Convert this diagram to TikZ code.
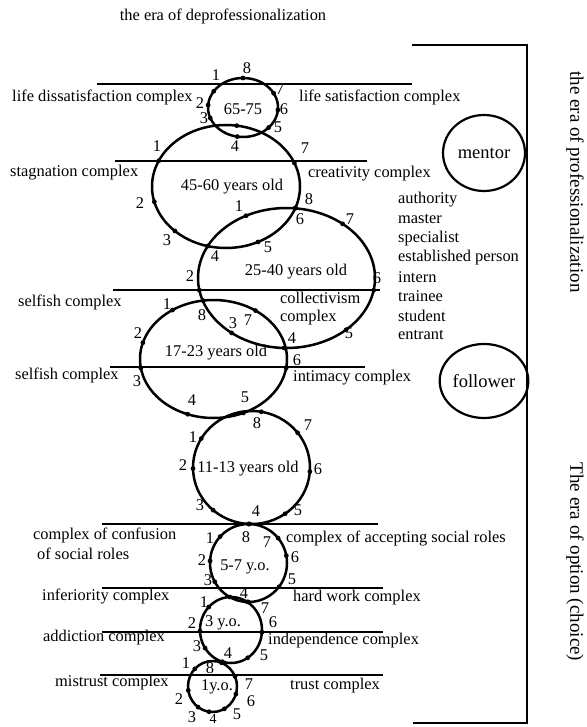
\documentclass[tikz,border=0pt]{standalone}
\usepackage{fontspec}
\setmainfont{Liberation Serif}
\usetikzlibrary{shapes.geometric}
\tikzset{
  ring/.style={ellipse, draw, line width=2.5pt, inner sep=0pt, outer sep=0pt},
  roleell/.style={ellipse, draw, line width=2.2pt, inner sep=0pt, outer sep=0pt, font=\fontsize{18.5}{20}\selectfont},
  hline/.style={line width=2.8pt},
  lab/.style={inner sep=0pt},
  txt/.style={inner sep=0pt, anchor=west},
  eratxt/.style={inner sep=0pt, rotate=-90, font=\fontsize{19}{21}\selectfont}
}
\begin{document}
\begin{tikzpicture}[x=1pt,y=-1pt,font=\fontsize{16.4}{18}\selectfont]
\useasboundingbox (0,0) rectangle (586,727);
% title
\node[lab] (title) at (223,16) {the era of deprofessionalization};
% bracket
\coordinate (b1) at (412,45);
\coordinate (b2) at (527,45);
\coordinate (b3) at (527,723);
\coordinate (b4) at (413,723);
\draw[hline, line join=miter] (b1) -- (b2) -- (b3) -- (b4);
\node[eratxt] (eraA) at (575,182) {the era of professionalization};
\node[eratxt] (eraB) at (575,562) {The era of option (choice)};
% mentor / follower
\node[roleell, minimum width=82pt, minimum height=76pt] (mentor) at (484,153) {mentor};
\node[roleell, minimum width=82pt, minimum height=74pt] (follower) at (484,381) {follower};
% roles
\foreach \r [count=\i] in {authority,master,specialist,established person,intern,trainee,student,entrant}
  \node[txt] (role\i) at (398,{200+19.3*(\i-1)}) {\r};
% horizontal lines
\foreach \i/\xa/\xb/\y in {1/97/412/84, 2/115/367/161, 3/113/380/290, 4/110/365/367, 5/102/378/524, 6/102/383/588, 7/102/383/632, 8/100/383/675}{
  \coordinate (h\i a) at (\xa,\y);
  \coordinate (h\i b) at (\xb,\y);
  \draw[hline] (h\i a) -- (h\i b);
}
% rings
\node[ring, minimum width=70pt, minimum height=59pt] (c1) at (243,107.5) {};
\node[ring, minimum width=148pt, minimum height=123pt] (c2) at (226,186.5) {};
\node[ring, minimum width=177pt, minimum height=140pt] (c3) at (286.5,278) {};
\node[ring, minimum width=147pt, minimum height=118pt] (c4) at (213.5,359) {};
\node[ring, minimum width=117pt, minimum height=113pt] (c5) at (251.5,467.5) {};
\node[ring, minimum width=77pt, minimum height=78pt] (c6) at (248.5,563) {};
\node[ring, minimum width=62pt, minimum height=66pt] (c7) at (231,630) {};
\node[ring, minimum width=49pt, minimum height=51pt] (c8) at (212.5,686.5) {};
% dots
\foreach \a in {151,176,198,259,322,356,25,90} \fill (c1.\a) circle (2.4pt);
\foreach \a in {159,192,221,253,300,343,19,80} \fill (c2.\a) circle (2.4pt);
\foreach \a in {123,188,225,268,319,352,44,83} \fill (c3.\a) circle (2.4pt);
\foreach \a in {130,167,187,245,299,353,49,100} \fill (c4.\a) circle (2.4pt);
\foreach \a in {80,37,150,181,356,228,268,306} \fill (c5.\a) circle (2.4pt);
\foreach \a in {90,137,40,177,11,209,322,270} \fill (c6.\a) circle (2.4pt);
\foreach \a in {134,60,182,356,215,255,301,92} \fill (c7.\a) circle (2.4pt);
\foreach \a in {69,24,342,298,262,235,189,135} \fill (c8.\a) circle (2.4pt);
% age texts
\node[lab] (t1) at (243,109) {65-75};
\node[lab] (t2) at (232,187) {45-60 years old};
\node[lab] (t3) at (296,272) {25-40 years old};
\node[lab] (t4) at (216,353) {17-23 years old};
\node[lab] (t5) at (248,469) {11-13 years old};
\node[lab] (t6) at (245,567) {5-7 y.o.};
\node[lab] (t7) at (223,623) {3 y.o.};
\node[lab] (t8) at (217,687) {1y.o.};
% number labels
\foreach \n/\x/\y [count=\k] in {1/216/75,2/200/103,3/204/118,4/235/146,5/278/127,6/284/109,7/280/89,8/247/68}
  \node[lab] (n1x\k) at (\x,\y) {\n};
\foreach \n/\x/\y [count=\k] in {1/157/146,2/140/203,3/167/240,4/215/256,5/268/247,6/300/219,7/305/148}
  \node[lab] (n2x\k) at (\x,\y) {\n};
\foreach \n/\x/\y [count=\k] in {1/239/206,2/190/276,3/233/323,4/292/338,5/349/333,6/377/278,7/350/219,8/309/199}
  \node[lab] (n3x\k) at (\x,\y) {\n};
\foreach \n/\x/\y [count=\k] in {1/167/304,2/138/333,3/137/381,4/192/400,5/245/397,6/297/360,7/248/320,8/202/315}
  \node[lab] (n4x\k) at (\x,\y) {\n};
\foreach \n/\x/\y [count=\k] in {1/193/437,2/183/465,3/200/505,4/256/511,5/298/510,6/318/469,7/308/425,8/257/423}
  \node[lab] (n5x\k) at (\x,\y) {\n};
\foreach \n/\x/\y [count=\k] in {1/210/538,2/202/560,3/208/580,4/244/593,5/292/579,6/295/557,7/267/542,8/246/537}
  \node[lab] (n6x\k) at (\x,\y) {\n};
\foreach \n/\x/\y [count=\k] in {1/204/602,2/192/623,3/197/646,4/228/653,5/264/655,6/273/622,7/265/608}
  \node[lab] (n7x\k) at (\x,\y) {\n};
\foreach \n/\x/\y [count=\k] in {1/186/663,2/179/699,3/192/717,5/237/714,6/251/701,7/249/684,8/210/668}
  \node[lab] (n8x\k) at (\x,\y) {\n};
\node[lab, font=\fontsize{14}{15}\selectfont] (n8x4) at (213,719) {4};
% left texts
\node[txt] (L1) at (12,97) {life dissatisfaction complex};
\node[txt] (L2) at (10,173) {stagnation complex};
\node[txt] (L3) at (18,302) {selfish complex};
\node[txt] (L4) at (15,375) {selfish complex};
\node[txt] (L5) at (33,535) {complex of confusion};
\node[txt] (L5b) at (37,554) {of social roles};
\node[txt] (L6) at (42,596) {inferiority complex};
\node[txt] (L7) at (43,638) {addiction complex};
\node[txt] (L8) at (55,683) {mistrust complex};
% right texts
\node[txt] (R1) at (299,97) {life satisfaction complex};
\node[txt] (R2) at (308,174) {creativity complex};
\node[txt] (R3) at (280,298) {collectivism};
\node[txt] (R3b) at (280,318) {complex};
\node[txt] (R4) at (293,378) {intimacy complex};
\node[txt] (R5) at (286,538) {complex of accepting social roles};
\node[txt] (R6) at (293,598) {hard work complex};
\node[txt] (R7) at (268,641) {independence complex};
\node[txt] (R8) at (290,686) {trust complex};
\end{tikzpicture}
\end{document}
